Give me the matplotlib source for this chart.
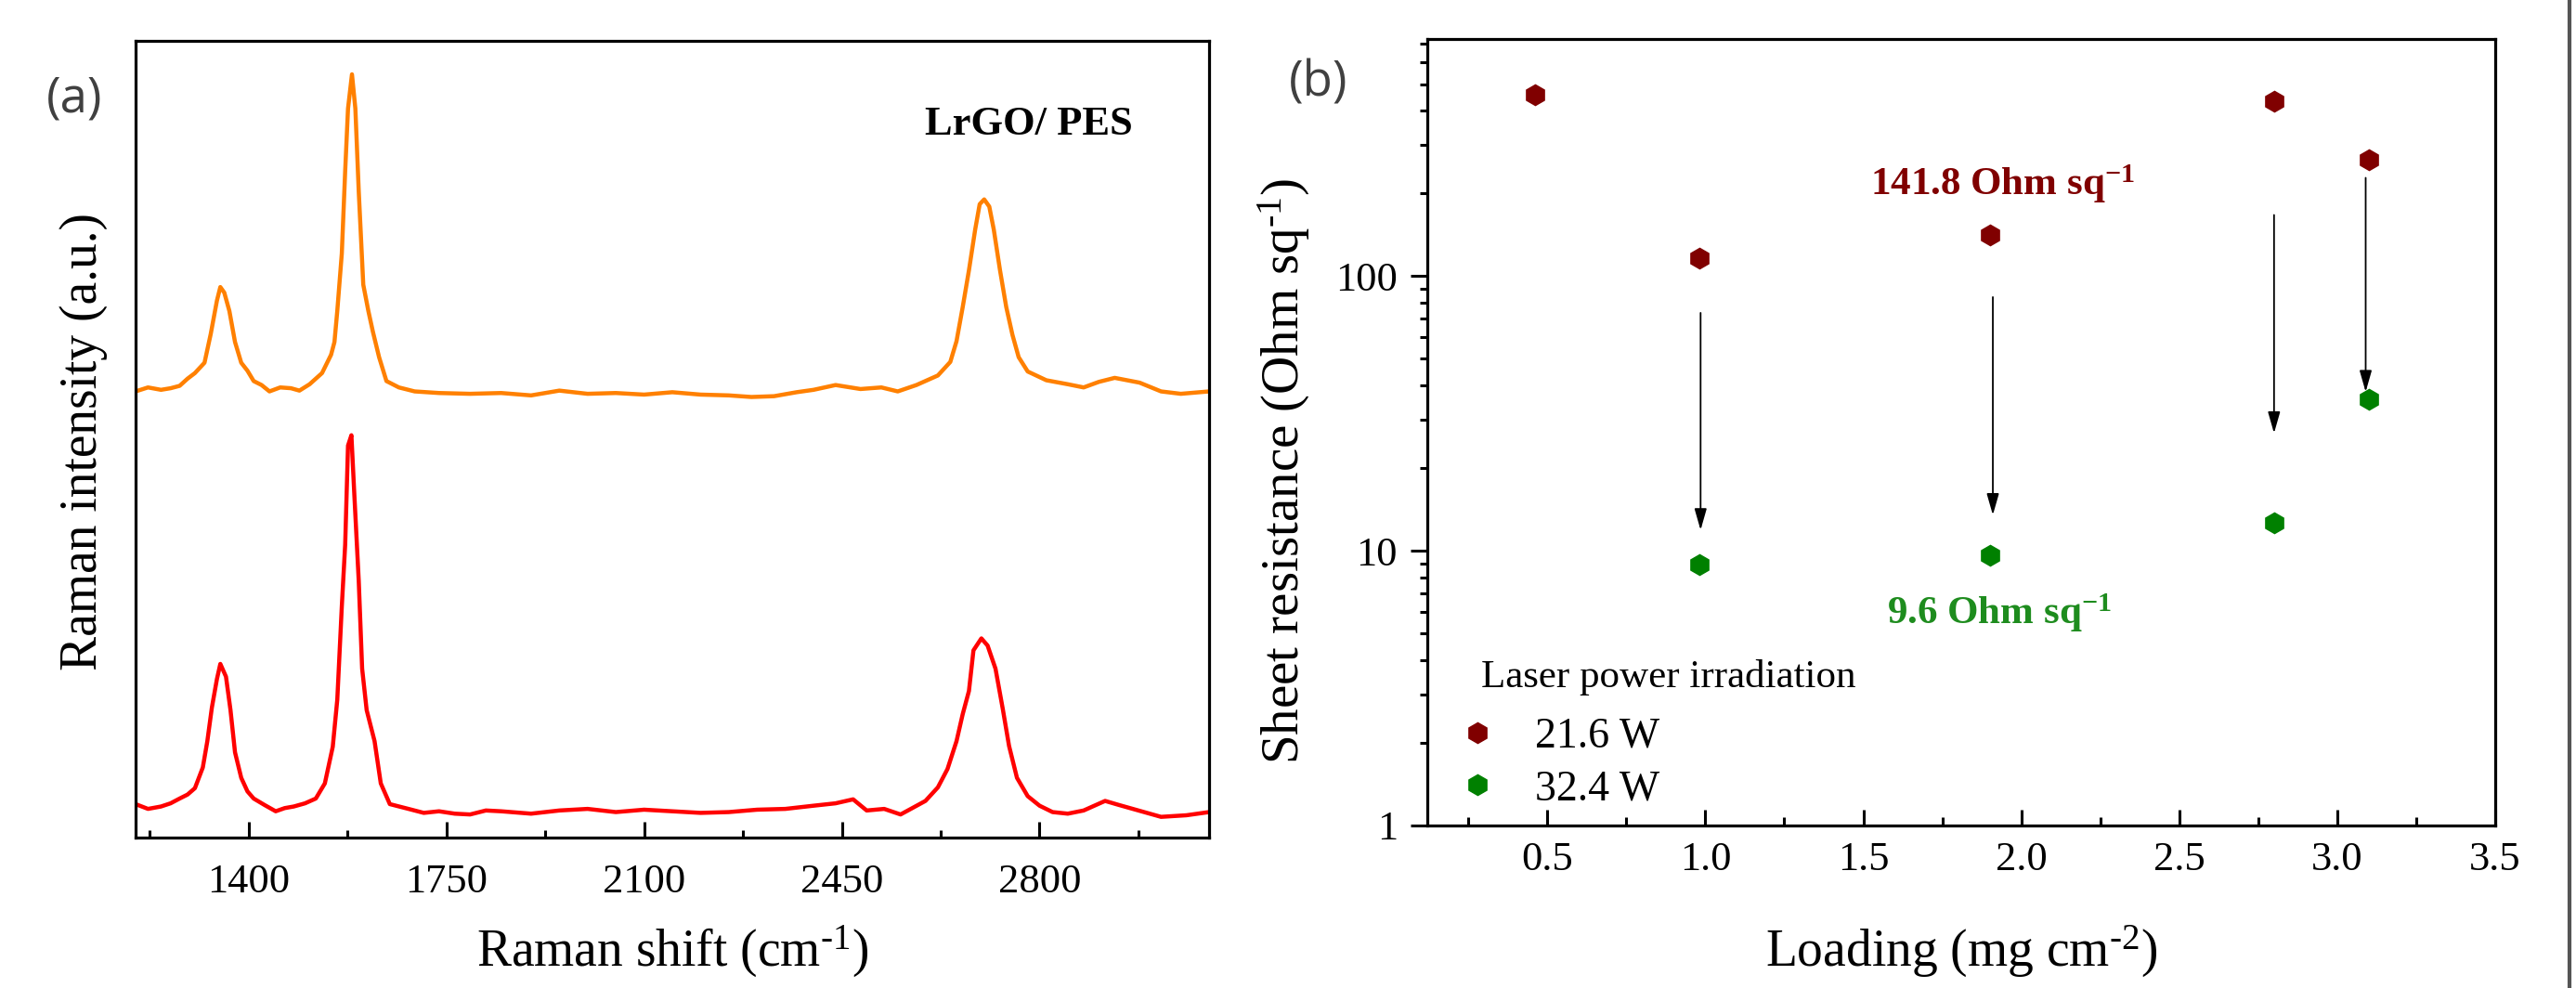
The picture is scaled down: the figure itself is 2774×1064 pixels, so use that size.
import matplotlib
matplotlib.use('Agg')
import matplotlib.pyplot as plt
from matplotlib.lines import Line2D
from matplotlib.ticker import MultipleLocator, LogLocator, NullFormatter

plt.rcParams['font.family'] = 'Liberation Serif'
plt.rcParams['mathtext.fontset'] = 'custom'
plt.rcParams['mathtext.rm'] = 'Liberation Serif'
plt.rcParams['mathtext.it'] = 'Liberation Serif:italic'
plt.rcParams['mathtext.bf'] = 'Liberation Serif:bold'

# (a) Raman spectra, intensity in arbitrary units (0-100 of the frame)
shift_top = [1200, 1222, 1245, 1262, 1278, 1292, 1305, 1322, 1333, 1344, 1350, 1357,
             1366, 1376, 1387, 1398, 1409, 1423, 1437, 1456, 1475, 1490, 1508, 1530,
             1546, 1552, 1557, 1565, 1571, 1576, 1583, 1589, 1595, 1603, 1612, 1620,
             1631, 1644, 1666, 1694, 1737, 1792, 1847, 1900, 1950, 2000, 2050, 2100,
             2150, 2200, 2250, 2290, 2330, 2370, 2400, 2439, 2483, 2520, 2549, 2582,
             2620, 2642, 2653, 2664, 2675, 2686, 2694, 2702, 2711, 2719, 2730, 2741,
             2752, 2763, 2779, 2812, 2850, 2878, 2905, 2933, 2955, 2977, 3015, 3050,
             3100]
int_top = [56.0, 56.5, 56.2, 56.4, 56.7, 57.6, 58.3, 59.6, 63.2, 67.4, 69.1, 68.4,
           66.1, 62.2, 59.6, 58.6, 57.3, 56.8, 56.0, 56.5, 56.4, 56.1, 56.9, 58.3,
           60.6, 62.2, 66.1, 73.3, 83.7, 91.5, 95.8, 91.5, 81.1, 69.4, 66.1, 63.5,
           60.3, 57.3, 56.5, 56.0, 55.8, 55.7, 55.8, 55.5, 56.1, 55.7, 55.8, 55.6,
           55.9, 55.6, 55.5, 55.3, 55.4, 55.9, 56.2, 56.8, 56.3, 56.5, 56.0, 56.8,
           58.0, 59.7, 62.3, 66.6, 71.2, 76.3, 79.5, 80.1, 79.2, 76.3, 71.2, 66.6,
           63.1, 60.3, 58.5, 57.4, 56.9, 56.5, 57.2, 57.7, 57.4, 57.1, 56.0, 55.7,
           56.0]

shift_bottom = [1200, 1222, 1245, 1262, 1278, 1292, 1305, 1319, 1327, 1335, 1344, 1350,
                1360, 1368, 1376, 1387, 1398, 1409, 1428, 1448, 1464, 1480, 1500, 1519,
                1535, 1549, 1557, 1565, 1571, 1576, 1582, 1587, 1595, 1601, 1609, 1623,
                1634, 1650, 1683, 1710, 1737, 1765, 1792, 1820, 1847, 1900, 1950, 2000,
                2050, 2100, 2150, 2200, 2250, 2300, 2350, 2400, 2439, 2470, 2494, 2525,
                2554, 2598, 2620, 2637, 2653, 2664, 2675, 2683, 2697, 2708, 2722, 2735,
                2746, 2760, 2779, 2800, 2823, 2850, 2878, 2916, 2940, 2960, 2990, 3015,
                3060, 3100]
int_bottom = [4.2, 3.6, 3.9, 4.3, 4.9, 5.4, 6.2, 8.8, 12.1, 16.3, 19.9, 21.8,
              20.2, 16.0, 10.7, 7.5, 5.8, 4.9, 4.1, 3.3, 3.7, 3.9, 4.3, 4.9,
              6.8, 11.4, 17.3, 29.0, 36.8, 49.2, 50.5, 43.3, 32.2, 21.2, 16.0, 12.1,
              6.8, 4.2, 3.6, 3.1, 3.3, 3.0, 2.9, 3.4, 3.3, 3.0, 3.4, 3.6,
              3.2, 3.5, 3.3, 3.1, 3.2, 3.5, 3.6, 4.0, 4.3, 4.8, 3.4, 3.6,
              2.9, 4.6, 6.3, 8.6, 12.1, 15.5, 18.4, 23.5, 25.0, 24.1, 21.2, 16.1,
              11.5, 7.5, 5.2, 4.0, 3.2, 3.0, 3.4, 4.6, 4.1, 3.7, 3.1, 2.6,
              2.8, 3.2]
raman_ticks = [1400, 1750, 2100, 2450, 2800]

# (b) sheet resistance vs loading
loading_216 = [0.46, 0.98, 1.90, 2.80, 3.10]
res_216 = [458, 116, 141.8, 432, 265]
loading_324 = [0.98, 1.90, 2.80, 3.10]
res_324 = [8.9, 9.6, 12.6, 35.5]
arrow_x = [0.985, 1.91, 2.80, 3.09]
arrow_from = [73.5, 83.9, 167, 228]
arrow_to = [11.9, 13.5, 26.8, 37.9]
loading_ticks = [0.5, 1.0, 1.5, 2.0, 2.5, 3.0, 3.5]

fig = plt.figure(figsize=(27.74, 10.64), dpi=100)
W, H = 2774, 1064
ax1 = fig.add_axes([146 / W, 1 - 902 / H, (1302 - 146) / W, (902 - 44) / H])
ax2 = fig.add_axes([1537 / W, 1 - 889 / H, (2687 - 1537) / W, (889 - 42) / H])

for ax in (ax1, ax2):
    for s in ax.spines.values():
        s.set_linewidth(2.3)

# ---- panel (a)
ax1.plot(shift_top, int_top, color='#ff8000', lw=3.2)
ax1.plot(shift_bottom, int_bottom, color='#ff0000', lw=3.2)
ax1.set_xlim(1200, 3100)
ax1.set_ylim(0, 100)
ax1.set_xticks(raman_ticks)
ax1.xaxis.set_minor_locator(MultipleLocator(175))
ax1.set_yticks([])
ax1.tick_params(axis='x', which='major', direction='in', length=12, width=2.2,
                labelsize=32, pad=20)
ax1.tick_params(axis='x', which='minor', direction='in', length=6, width=2.2)
ax1.set_xlabel(r'Raman shift (cm$^{\text{-1}}$)', fontsize=40)
ax1.xaxis.set_label_coords(0.5, -0.108)
ax1.set_ylabel('Raman intensity (a.u.)', fontsize=40)
ax1.yaxis.set_label_coords(-0.026, 0.497)
ax1.text(0.832, 0.895, 'LrGO/ PES', transform=ax1.transAxes, fontsize=32,
         fontweight='bold', ha='center', va='center')

# ---- panel (b)
ax2.set_yscale('log')
ax2.plot(loading_216, res_216, ls='none', marker='h', ms=16, color='#800000',
         label='21.6 W')
ax2.plot(loading_324, res_324, ls='none', marker='h', ms=16, color='#008000',
         label='32.4 W')
for x, y0, y1 in zip(arrow_x, arrow_from, arrow_to):
    ax2.annotate('', xy=(x, y1), xytext=(x, y0),
                 arrowprops=dict(arrowstyle='-|>,head_length=0.7,head_width=0.2',
                                 color='black', lw=1.3, shrinkA=0, shrinkB=0,
                                 mutation_scale=20))
ax2.set_xlim(0.12, 3.5)
ax2.set_ylim(1, 730)
ax2.set_xticks(loading_ticks)
ax2.set_xticklabels([f'{t:.1f}' for t in loading_ticks])
ax2.xaxis.set_minor_locator(MultipleLocator(0.25))
ax2.set_yticks([1, 10, 100])
ax2.set_yticklabels(['1', '10', '100'])
ax2.yaxis.set_minor_locator(LogLocator(base=10, subs=range(2, 10)))
ax2.yaxis.set_minor_formatter(NullFormatter())
ax2.tick_params(axis='x', which='major', direction='in', length=12, width=2.2,
                labelsize=32, pad=12)
ax2.tick_params(axis='x', which='minor', direction='in', length=6.5, width=2.2)
ax2.tick_params(axis='y', which='major', direction='out', length=13, width=2.2,
                labelsize=32, pad=10)
ax2.tick_params(axis='y', which='minor', direction='out', length=6, width=2.2)
ax2.set_xlabel(r'Loading (mg cm$^{\text{-2}}$)', fontsize=40)
ax2.xaxis.set_label_coords(0.5, -0.125)
ax2.set_ylabel(r'Sheet resistance (Ohm sq$^{\text{-1}}$)', fontsize=41)
ax2.yaxis.set_label_coords(-0.108, 0.451)

ax2.text(1.94, 216, r'141.8 Ohm sq$^{\mathbf{-1}}$', fontsize=31, fontweight='bold',
         color='#800000', ha='center', va='center')
ax2.text(1.93, 5.96, r'9.6 Ohm sq$^{\mathbf{-1}}$', fontsize=31, fontweight='bold',
         color='#1e8c1e', ha='center', va='center')

ax2.legend(loc='lower left', bbox_to_anchor=(0.037, 0.021), frameon=False,
           fontsize=33, handlelength=0.5, handletextpad=1.1, labelspacing=0.3,
           borderpad=0, borderaxespad=0)
ax2.text(0.05, 0.188, 'Laser power irradiation', transform=ax2.transAxes,
         fontsize=31, ha='left', va='center')

fig.text(80 / W, 1 - 107 / H, '(a)', family='Open Sans', fontsize=38, color='#404040',
         ha='center', va='center')
fig.text(1420 / W, 1 - 90 / H, '(b)', family='Open Sans', fontsize=38, color='#404040',
         ha='center', va='center')
fig.add_artist(Line2D([2767 / W, 2767 / W], [0, 1], color='#555555', lw=3))

fig.savefig('out.png', dpi=100)
